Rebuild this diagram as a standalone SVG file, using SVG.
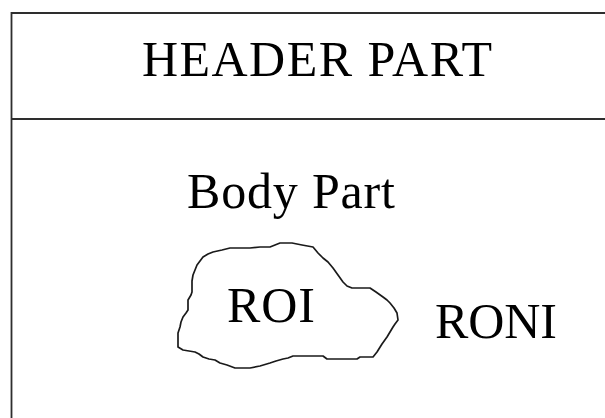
<svg xmlns="http://www.w3.org/2000/svg" width="605" height="418" viewBox="0 0 605 418">
  <style>
    .frame { fill: none; stroke: #2e2e2e; stroke-width: 1.8; }
    .blob { fill: none; stroke: #1a1a1a; stroke-width: 1.7; stroke-linejoin: round; }
    .lbl { font-family: "Liberation Serif", "Times New Roman", serif; font-size: 50px; fill: #000; }
  </style>
  <rect width="605" height="418" fill="#fff"/>

  <!-- outer frame: left edge, top edge and the header/body divider -->
  <g id="frame">
    <path class="frame" d="M11.5,418 V13 H605"/>
    <path class="frame" d="M11.5,119 H605"/>
  </g>

  <g id="header">
    <text class="lbl" x="142" y="76" textLength="350" lengthAdjust="spacing">HEADER PART</text>
  </g>

  <g id="body">
    <text class="lbl" x="187" y="208" textLength="208" lengthAdjust="spacing">Body Part</text>
  </g>

  <!-- hand-drawn region outline -->
  <g id="roi">
    <path class="blob" d="M203,257 L208,254 L213,252 L222,250 L230,248 L240,248 L250,248 L260,247 L270,247 L275,245 L280,243 L286,243 L292,243 L302,245 L313,247 L318,253 L323,258 L328,262 L333,268 L338,275 L343,282 L347,286 L352,288 L361,288 L370,288 L376,292 L383,297 L387,300 L390,303 L394,308 L397,313 L398,320 L395,324 L393,327 L390,332 L387,337 L382,344 L377,352 L373,357 L366,357 L360,357 L357,359 L342,359 L327,359 L323,356 L308,356 L293,356 L288,358 L283,359 L276,361 L270,363 L260,366 L250,368 L242,368 L235,368 L227,365 L220,363 L215,360 L209,359 L203,357 L199,354 L195,352 L189,351 L183,350 L178,347 L178,340 L178,333 L180,327 L181,322 L183,317 L186,313 L188,310 L188,305 L188,300 L191,295 L192,292 L192,288 L192,281 L193,275 L195,270 L197,265 L200,261 Z"/>
    <text class="lbl" x="227" y="322" textLength="88" lengthAdjust="spacing">ROI</text>
  </g>

  <g id="roni">
    <text class="lbl" x="435" y="338" textLength="122" lengthAdjust="spacing">RONI</text>
  </g>
</svg>
